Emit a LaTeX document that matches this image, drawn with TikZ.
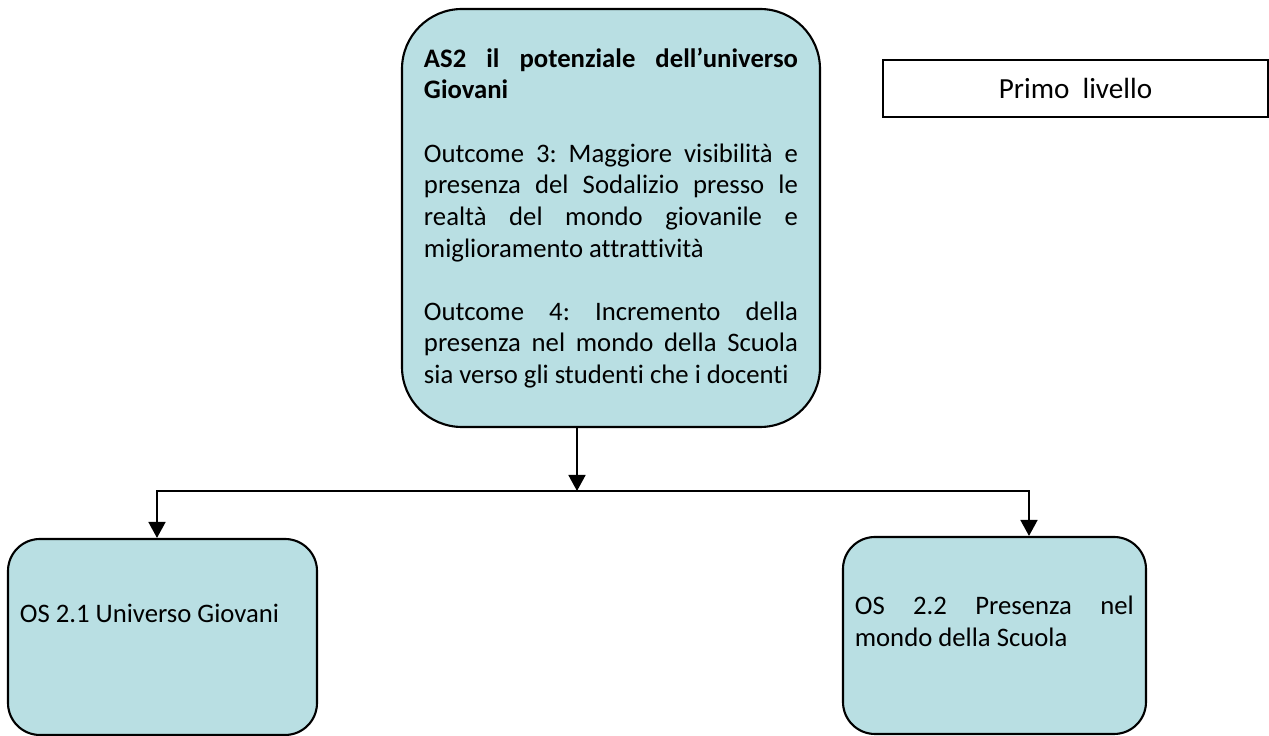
\documentclass[tikz,border=0pt]{standalone}
\usepackage{fontspec}
\setmainfont{Carlito}[Ligatures=NoCommon]
\usepackage{tikz}
\usetikzlibrary{arrows.meta,positioning}
\tikzset{>={Triangle[length=1.6mm,width=1.7mm]}}
\definecolor{boxfill}{RGB}{185,223,227}
\newcommand{\wordfont}{\fontsize{7.6}{9.0}\selectfont}
\hyphenpenalty=10000
\tolerance=10000
\frenchspacing
\tikzset{
  obox/.style={draw, line width=0.6pt, fill=boxfill, rounded corners=#1},
  otext/.style={inner sep=0pt, text width=2.79cm, align=justify, font=\wordfont},
}

\begin{document}
\begin{tikzpicture}[line width=0.5pt]
  \useasboundingbox (0,0) rectangle (12.69,7.36);
  % livello
  \node[draw, line width=0.6pt, minimum width=3.85cm, minimum height=0.57cm, font=\fontsize{8.3}{9.5}\selectfont] (lev) at (10.755,6.475) {Primo\ \ livello};
  % area strategica
  \node[obox=0.6cm, text width=3.74cm, align=justify, inner xsep=0.22cm, minimum height=4.18cm, font=\wordfont] (as2) at (6.11,5.18)
    {\textbf{AS2 il potenziale dell’universo\linebreak Giovani}\par\vspace{\baselineskip}
     Outcome 3: Maggiore visibilità e\linebreak presenza del Sodalizio presso le\linebreak realtà del mondo giovanile e\linebreak miglioramento attrattività\par\vspace{\baselineskip}
     Outcome 4: Incremento della\linebreak presenza nel mondo della Scuola\linebreak sia verso gli studenti che i docenti};
  % obiettivi specifici
  \node[obox=0.32cm, minimum width=3.09cm, minimum height=1.96cm] (os1) at (1.625,0.99) {};
  \node[otext, anchor=west] (os1txt) at ([shift={(0.12,0.24)}]os1.west) {OS 2.1 Universo Giovani};
  \node[obox=0.32cm, minimum width=3.03cm, minimum height=1.97cm] (os2) at (9.945,1.005) {};
  \node[otext, anchor=west] (os2txt) at ([shift={(0.12,0.14)}]os2.west) {OS 2.2 Presenza nel\linebreak mondo della Scuola};
  \coordinate (jn) at (5.77,2.45);
  \draw[->] (as2.south -| jn) -- (jn);
  \draw[<->] ([xshift=-0.55mm]os1.north) |- (jn) -| ([xshift=3.45mm]os2.north);
\end{tikzpicture}
\end{document}
